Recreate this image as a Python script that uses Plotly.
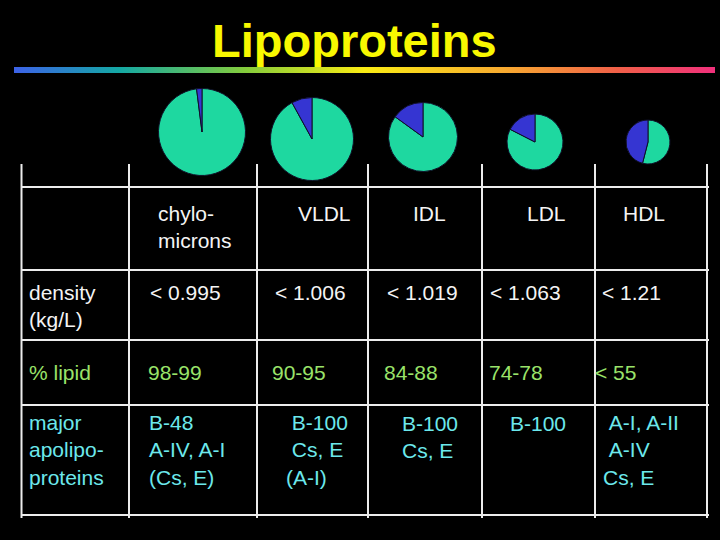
import plotly.graph_objects as go

# table content
classes = ["chylo-<br>microns", "VLDL", "IDL", "LDL", "HDL"]
row_labels = ["density<br>(kg/L)", "% lipid", "major<br>apolipo-<br>proteins"]
density = ["< 0.995", "< 1.006", "< 1.019", "< 1.063", "< 1.21"]
lipid_range = ["98-99", "90-95", "84-88", "74-78", "< 55"]
apolipoproteins = [
    "B-48<br>A-IV, A-I<br>(Cs, E)",
    "\u00a0B-100<br>\u00a0Cs, E<br>(A-I)",
    "B-100<br>Cs, E",
    "B-100",
    "\u00a0A-I, A-II<br>\u00a0A-IV<br>Cs, E",
]

# pie composition (percent of particle mass)
lipid_share = [98, 92, 85, 82.5, 54]
protein_share = [2, 8, 15, 17.5, 46]

# layout (pixels)
W, H = 720, 540
FS = 21
pie_cx = [202, 312, 423, 535, 648]
pie_cy = [132, 139, 137, 142, 142]
pie_r = [43.5, 41.5, 34.5, 28, 22]
col_lines = [21.5, 129, 257, 368, 482, 595, 707]
row_lines = [187, 270, 340, 405, 515]
header_x = [156, 296, 411, 525, 621]
density_x = [148, 273, 385, 488, 600]
lipid_x = [146, 270, 382, 487, 593]
apo_x = [147, 284, 400, 508, 601]
label_x = 27
row_y = [213, 292, 372, 423]

WHITE = "#f4f4f4"
GREEN_TXT = "#9ae36a"
CYAN_TXT = "#6ce8ec"

fig = go.Figure()

# rainbow rule under the title
fig.add_trace(go.Scatter(
    x=[14, 715, 715, 14, 14], y=[67, 67, 73, 73, 67],
    mode="lines", line=dict(width=0), fill="toself",
    fillgradient=dict(type="horizontal", colorscale=[
        [0, "#3d62e8"], [0.15, "#14a8a4"], [0.33, "#84cc3c"], [0.5, "#faec14"],
        [0.7, "#f8aa30"], [0.86, "#f06048"], [1, "#f0307c"]]),
    hoverinfo="skip", showlegend=False,
))

# lipid runs clockwise from 12 o'clock, so protein ends up left of 12
for i in range(len(classes)):
    fig.add_trace(go.Pie(
        values=[lipid_share[i], protein_share[i]],
        labels=["lipid", "protein"],
        sort=False, direction="clockwise", rotation=0,
        marker=dict(colors=["#1ed8a0", "#3535d2"], line=dict(color="#101028", width=1)),
        textinfo="none", showlegend=False,
        domain=dict(
            x=[(pie_cx[i] - pie_r[i]) / W, (pie_cx[i] + pie_r[i]) / W],
            y=[1 - (pie_cy[i] + pie_r[i]) / H, 1 - (pie_cy[i] - pie_r[i]) / H],
        ),
    ))

# grid lines
for x in col_lines:
    fig.add_shape(type="line", x0=x, x1=x, y0=164, y1=518, xref="x", yref="y",
                  line=dict(color="#ececec", width=2))
for y in row_lines:
    fig.add_shape(type="line", x0=21, x1=709, y0=y, y1=y, xref="x", yref="y",
                  line=dict(color="#ececec", width=2))


def add_cell(x, y_first, text, color):
    n = text.count("<br>") + 1
    fig.add_annotation(
        x=x, y=y_first + (n - 1) * 1.3 * FS / 2, text=text, xref="x", yref="y",
        xanchor="left", yanchor="middle", align="left", showarrow=False,
        font=dict(family="Liberation Sans, Arial", size=FS, color=color),
    )


for i in range(len(classes)):
    add_cell(header_x[i], row_y[0], classes[i], WHITE)
    add_cell(density_x[i], row_y[1], density[i], WHITE)
    add_cell(lipid_x[i], row_y[2], lipid_range[i], GREEN_TXT)
    add_cell(apo_x[i], row_y[3], apolipoproteins[i], CYAN_TXT)

add_cell(label_x, row_y[1], row_labels[0], WHITE)
add_cell(label_x, row_y[2], row_labels[1], GREEN_TXT)
add_cell(label_x, row_y[3], row_labels[2], CYAN_TXT)

fig.add_annotation(
    x=354, y=40, text="<b>Lipoproteins</b>", xref="x", yref="y",
    xanchor="center", yanchor="middle", showarrow=False,
    font=dict(family="Liberation Sans, Arial", size=47, color="#f8f800"),
)

fig.update_layout(
    width=W, height=H,
    margin=dict(l=0, r=0, t=0, b=0),
    paper_bgcolor="black", plot_bgcolor="black",
    xaxis=dict(range=[0, W], visible=False, fixedrange=True),
    yaxis=dict(range=[H, 0], visible=False, fixedrange=True),
    showlegend=False,
)

fig.write_html(
    "out.html",
    config={"displayModeBar": False},
    post_script="document.body.style.margin='0';document.body.style.background='black';",
)
